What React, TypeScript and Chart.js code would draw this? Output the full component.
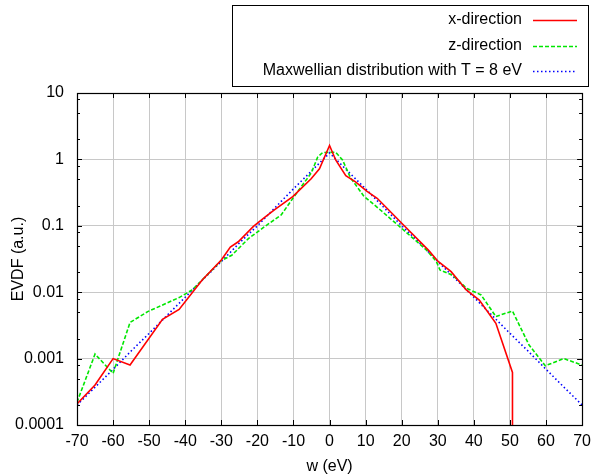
import React, { useEffect, useRef } from "react";
import { Chart, registerables } from "chart.js";

Chart.register(...registerables);

// ---- data ----
const xDirW = [-70, -65, -60, -55.3, -46.3, -41.7, -35.3, -30, -27.5, -25.3, -21.1, -17.9, -15.2, -10.2, -5.1, -2.8, 0, 1.7, 4.5, 7.2, 10.4, 13.2, 20.5, 27.4, 30.1, 33.7, 37.9, 41.5, 46.1, 50.7, 50.7];
const xDirF = [2.07e-4, 4.0e-4, 1.0e-3, 8.0e-4, 3.9e-3, 5.5e-3, 0.0153, 0.0305, 0.048, 0.0575, 0.098, 0.135, 0.175, 0.275, 0.51, 0.72, 1.62, 0.98, 0.57, 0.46, 0.33, 0.26, 0.103, 0.043, 0.029, 0.0204, 0.0108, 0.0076, 0.0034, 6.2e-4, 1e-7];

const zDirW = [-70, -65, -60, -55.3, -50.4, -41.7, -38.1, -35.3, -30, -27.1, -22.5, -17.9, -13.4, -8.8, -5.1, -3.3, -1.9, 1.7, 3.6, 5.8, 9.5, 14.1, 20.5, 26.9, 29.6, 30.6, 34.2, 37.9, 42.0, 46.1, 50.7, 55.3, 59.8, 64.9, 70];
const zDirF = [2.2e-4, 1.17e-3, 6.0e-4, 3.5e-3, 5.1e-3, 8.3e-3, 0.0108, 0.0153, 0.03, 0.036, 0.064, 0.098, 0.146, 0.33, 0.62, 1.08, 1.27, 1.28, 0.98, 0.53, 0.28, 0.173, 0.0865, 0.043, 0.029, 0.0216, 0.018, 0.0115, 0.0091, 0.0043, 0.0052, 0.0016, 7.8e-4, 1.0e-3, 8.0e-4];

const maxwW = [-70, -65, -60, -55, -50, -45, -40, -35, -30, -25, -20, -15, -10, -5, 0, 5, 10, 15, 20, 25, 30, 35, 40, 45, 50, 55, 60, 65, 70];
const maxwF = [2.0e-4, 3.7e-4, 6.9e-4, 1.3e-3, 2.4e-3, 4.5e-3, 8.4e-3, 0.0157, 0.029, 0.055, 0.10, 0.19, 0.36, 0.67, 1.25, 0.67, 0.36, 0.19, 0.10, 0.055, 0.029, 0.0157, 8.4e-3, 4.5e-3, 2.4e-3, 1.3e-3, 6.9e-4, 3.7e-4, 2.0e-4];

const seriesLabels = ["x-direction", "z-direction", "Maxwellian distribution with T = 8 eV"];
const yTickValues = [1e-4, 1e-3, 1e-2, 1e-1, 1, 10];
const yTickLabels = ["0.0001", "0.001", "0.01", "0.1", "1", "10"];
const yMinorFactors = [2, 5, 8];
const xTickValues = [-70, -60, -50, -40, -30, -20, -10, 0, 10, 20, 30, 40, 50, 60, 70];

const FONT = "'Liberation Sans', Arial, Helvetica, sans-serif";
const FS = 16;

const zip = (xs: number[], ys: number[]) => xs.map((x, i) => ({ x, y: ys[i] }));

const framePlugin = {
  id: "frame",
  afterDatasetsDraw(chart: any) {
    const { ctx, chartArea: a, scales } = chart;
    const xs = scales.x;
    const ys = scales.y;
    ctx.save();
    ctx.strokeStyle = "#000";
    ctx.lineWidth = 1;
    // major ticks
    ctx.beginPath();
    for (const v of yTickValues) {
      const p = Math.round(ys.getPixelForValue(v)) + 0.5;
      ctx.moveTo(a.left, p); ctx.lineTo(a.left + 5, p);
      ctx.moveTo(a.right, p); ctx.lineTo(a.right - 5, p);
    }
    for (const v of xTickValues) {
      const p = Math.round(xs.getPixelForValue(v)) + 0.5;
      ctx.moveTo(p, a.bottom); ctx.lineTo(p, a.bottom - 5);
      ctx.moveTo(p, a.top); ctx.lineTo(p, a.top + 5);
    }
    // minor ticks
    for (let i = 0; i < yTickValues.length - 1; i++) {
      for (const f of yMinorFactors) {
        const p = Math.round(ys.getPixelForValue(yTickValues[i] * f)) + 0.5;
        ctx.moveTo(a.left, p); ctx.lineTo(a.left + 3, p);
        ctx.moveTo(a.right, p); ctx.lineTo(a.right - 3, p);
      }
    }
    ctx.stroke();
    // border
    ctx.lineWidth = 1.2;
    ctx.strokeRect(Math.round(a.left) + 0.5, Math.round(a.top) + 0.5, Math.round(a.right - a.left), Math.round(a.bottom - a.top));

    // legend (gnuplot style)
    ctx.lineWidth = 1;
    ctx.strokeRect(232.5, 5.5, 356, 81);
    ctx.font = `${FS}px ${FONT}`;
    ctx.fillStyle = "#000";
    ctx.textAlign = "right";
    ctx.textBaseline = "middle";
    const rowsY = [20, 45.5, 71];
    chart.data.datasets.forEach((ds: any, i: number) => {
      const y = rowsY[i];
      ctx.fillText(ds.label, 522, y);
      ctx.save();
      ctx.strokeStyle = ds.borderColor;
      ctx.lineWidth = ds.borderWidth;
      ctx.setLineDash(ds.borderDash || []);
      ctx.beginPath();
      ctx.moveTo(533, Math.round(y) + 0.5);
      ctx.lineTo(577, Math.round(y) + 0.5);
      ctx.stroke();
      ctx.restore();
    });
    ctx.restore();
  },
};

export default function App() {
  const ref = useRef<HTMLCanvasElement>(null);
  useEffect(() => {
    if (!ref.current) return;
    const chart = new Chart(ref.current, {
      type: "line",
      data: {
        datasets: [
          { label: seriesLabels[0], data: zip(xDirW, xDirF), borderColor: "#ff0000", borderWidth: 1.6, pointRadius: 0, tension: 0, fill: false },
          { label: seriesLabels[1], data: zip(zDirW, zDirF), borderColor: "#00e600", borderWidth: 1.6, borderDash: [4, 2], pointRadius: 0, tension: 0, fill: false },
          { label: seriesLabels[2], data: zip(maxwW, maxwF), borderColor: "#0000ff", borderWidth: 1.6, borderDash: [1.5, 2.5], pointRadius: 0, tension: 0, fill: false },
        ] as any,
      },
      options: {
        animation: false,
        responsive: false,
        layout: { padding: { top: 93, right: 11, left: 0, bottom: 0 } },
        plugins: { legend: { display: false }, tooltip: { enabled: false } },
        scales: {
          x: {
            type: "linear",
            min: -70,
            max: 70,
            afterBuildTicks: (s: any) => { s.ticks = xTickValues.map((v) => ({ value: v })); },
            afterFit: (s: any) => { s.height = 51; },
            ticks: { color: "#000", font: { size: FS, family: FONT }, padding: 7, maxRotation: 0, autoSkip: false, callback: (v: any) => String(v) },
            grid: { color: "#c8c8c8", lineWidth: 1, drawTicks: false },
            border: { display: false },
            title: { display: true, text: "w (eV)", color: "#000", font: { size: FS, family: FONT }, padding: { top: 0, bottom: 0 } },
          },
          y: {
            type: "logarithmic",
            min: 1e-4,
            max: 10,
            afterBuildTicks: (s: any) => { s.ticks = yTickValues.map((v) => ({ value: v })); },
            afterFit: (s: any) => { s.width = 77; },
            ticks: {
              color: "#000",
              font: { size: FS, family: FONT },
              padding: 13,
              autoSkip: false,
              callback: (v: any) => {
                const i = yTickValues.findIndex((t) => Math.abs(Math.log10(t) - Math.log10(v)) < 1e-6);
                return i >= 0 ? yTickLabels[i] : "";
              },
            },
            grid: { color: "#c8c8c8", lineWidth: 1, drawTicks: false },
            border: { display: false },
            title: { display: true, text: "EVDF (a.u.)", color: "#000", font: { size: FS, family: FONT }, padding: { top: 9, bottom: 0 } },
          },
        },
      } as any,
      plugins: [framePlugin],
    });
    return () => chart.destroy();
  }, []);
  return (
    <div style={{ position: "absolute", left: 0, top: 0, width: 598, height: 476, background: "#fff" }}>
      <canvas ref={ref} width={598} height={476} style={{ display: "block" }} />
    </div>
  );
}
